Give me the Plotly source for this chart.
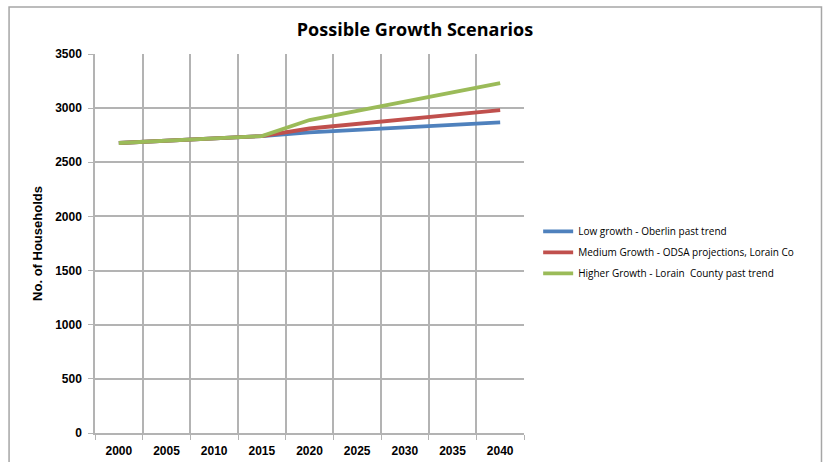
import plotly.graph_objects as go

# Household projections by scenario
years = ["2000", "2005", "2010", "2015", "2020", "2025", "2030", "2035", "2040"]
low_growth = [2678, 2702, 2726, 2742, 2776, 2799, 2822, 2845, 2868]
medium_growth = [2678, 2702, 2726, 2742, 2812, 2855, 2897, 2940, 2982]
higher_growth = [2678, 2702, 2726, 2742, 2890, 2975, 3060, 3145, 3232]

series_names = [
    "Low growth - Oberlin past trend",
    "Medium Growth - ODSA projections, Lorain Co",
    "Higher Growth - Lorain  County past trend",
]
series_values = [low_growth, medium_growth, higher_growth]
series_colors = ["#4F81BD", "#C0504D", "#9BBB59"]

y_ticks = [0, 500, 1000, 1500, 2000, 2500, 3000, 3500]

fig = go.Figure()
for i, (name, vals, color) in enumerate(zip(series_names, series_values, series_colors)):
    fig.add_trace(go.Scatter(
        x=years, y=vals, name=name, mode="lines", legendgroup=f"g{i}",
        line=dict(color=color, width=3.8),
    ))

grid = "#b3b3b3"
fig.update_layout(
    width=824, height=462,
    margin=dict(l=95, r=300, t=54, b=29),
    paper_bgcolor="white", plot_bgcolor="white",
    font=dict(family="Liberation Sans", color="black"),
    title=dict(
        text="<b>Possible Growth Scenarios</b>",
        x=415 / 824, xanchor="center", y=1 - 30 / 462, yanchor="middle",
        font=dict(size=18, family="Open Sans"),
    ),
    showlegend=True,
    legend=dict(
        x=1.033, xanchor="left", y=0.570, yanchor="top",
        font=dict(size=10, family="Open Sans"),
        itemwidth=30, tracegroupgap=2,
        bgcolor="rgba(0,0,0,0)",
    ),
    xaxis=dict(
        type="category", range=[-0.5, 8.5], automargin=False,
        tickson="boundaries", showgrid=True, gridcolor=grid, gridwidth=1.5,
        showline=True, linecolor=grid, linewidth=1.5,
        ticks="outside", ticklen=5, tickcolor=grid,
        tickfont=dict(size=12, family="Liberation Sans", weight="bold"),
        ticklabelstandoff=6,
    ),
    yaxis=dict(
        range=[0, 3500], tickvals=y_ticks, automargin=False,
        showgrid=True, gridcolor=grid, gridwidth=1.5,
        showline=True, linecolor=grid, linewidth=1.5,
        ticks="outside", ticklen=5, tickcolor=grid,
        tickfont=dict(size=12, family="Liberation Sans", weight="bold"),
        ticklabelstandoff=4,
        zeroline=False,
        title=dict(text="<b>No. of Households</b>", font=dict(size=13, family="Liberation Sans"), standoff=10),
    ),
    shapes=[dict(
        type="rect", xref="paper", yref="paper",
        x0=(9 - 95) / 429.3, x1=(822 - 95) / 429.3,
        y0=-0.2, y1=(433 - 7) / 379,
        line=dict(color="#a6a6a6", width=1.5), layer="below",
    )],
)

fig.write_html("out.html")
